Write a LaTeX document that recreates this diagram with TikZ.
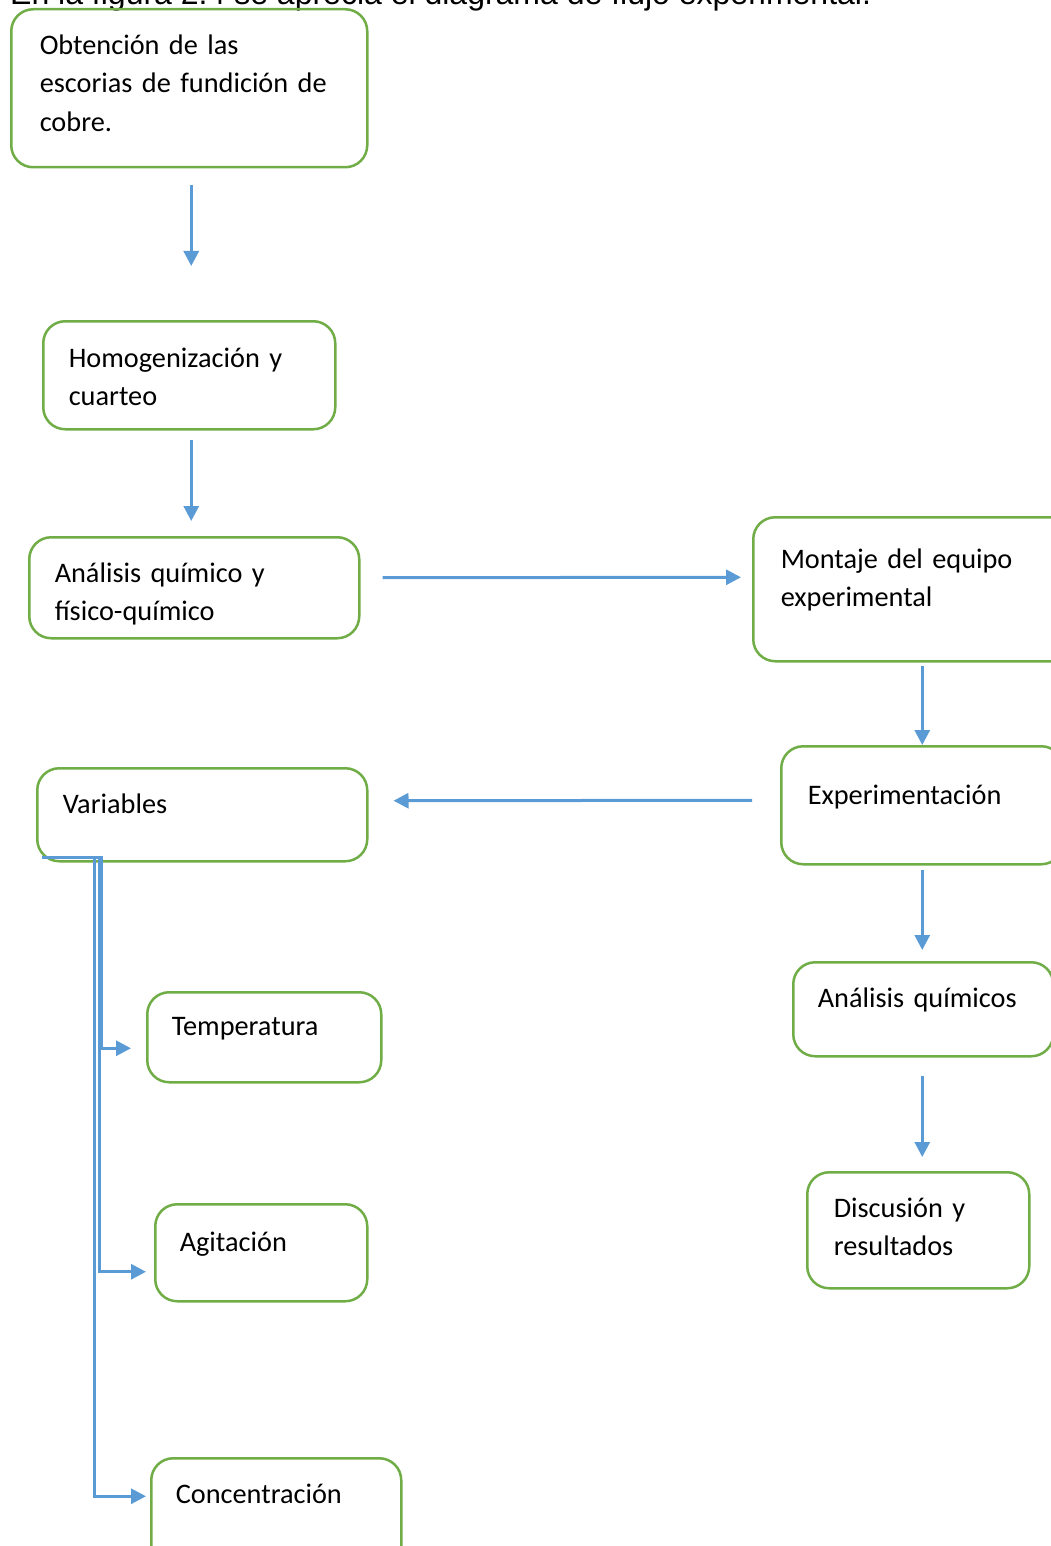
\documentclass[tikz,border=0pt]{standalone}
\usepackage{fontspec}
\setmainfont{Carlito}
\newfontfamily\headfont{Liberation Sans}
\usepackage{tikz}
\usetikzlibrary{arrows.meta, positioning, calc}
\usepackage{xcolor}
\definecolor{boxgreen}{HTML}{70AD47}
\definecolor{flowblue}{HTML}{5B9BD5}

\begin{document}
\begin{tikzpicture}[x=1pt, y=-1pt,
    box/.style={draw=boxgreen, line width=2.5pt, rounded corners=22pt, anchor=north west,
        inner ysep=0pt, align=left, font=\fontsize{28.3}{38.5}\selectfont},
    flow/.style={flowblue, line width=3pt, -{Triangle[length=15pt, width=15pt]}}]
                \clip (0,0) rectangle (1051,1546);
                \useasboundingbox (0,0) rectangle (1051,1546);

                % Caption line, cut at the top
                \node[anchor=base west, inner sep=0pt, font=\headfont\fontsize{32}{38}\selectfont] (head) at (10,5) {En la figura 2.4 se aprecia el diagrama de flujo experimental.};

                % Left column
                \node[box, inner xsep=28.5pt, text width=299pt, text height=45pt, text depth=113pt] (obt) at (10,8) {Obtención de las\\escorias de fundición de\\cobre.};
                \node[box, inner xsep=25.5pt, text width=241pt, text height=46pt, text depth=62pt] (homog) at (42,320) {Homogenización y\\cuarteo};
                \node[box, inner xsep=25.5pt, text width=279pt, text height=45pt, text depth=56pt] (anal) at (28,536) {Análisis químico y\\físico-químico};

                % Right column
                \node[box, inner xsep=27.5pt, text width=283pt, text height=51pt, text depth=93pt] (mont) at (752,516) {Montaje del equipo\\experimental};
                \node[box, inner xsep=26.5pt, text width=229pt, text height=58pt, text depth=60pt] (expe) at (780,745) {Experimentación};
                \node[box, inner xsep=24.5pt, text width=211pt, text height=45pt, text depth=49pt] (quim) at (792,961) {Análisis químicos};
                \node[box, inner xsep=26.5pt, text width=169pt, text height=45pt, text depth=71pt] (disc) at (806,1171) {Discusión y\\resultados};

                % Variables and its branches
                \node[box, inner xsep=25.5pt, text width=279pt, text height=45pt, text depth=48pt] (vars) at (36,767) {Variables};
                \node[box, inner xsep=24.5pt, text width=185pt, text height=43pt, text depth=47pt] (temp) at (146,991) {Temperatura};
                \node[box, inner xsep=24.5pt, text width=163pt, text height=47pt, text depth=50pt] (agit) at (154,1203) {Agitación};
                \node[box, inner xsep=24.5pt, text width=201pt, text height=45pt, text depth=65pt] (conc) at (150,1457) {Concentración};

                % Main flow
                \draw[flow, shorten <=17pt, shorten >=54pt] ($(obt.south)+(2,0)$) -- ($(homog.north)+(2,0)$);
                \draw[flow, shorten <=9pt, shorten >=15pt] ($(homog.south)+(2,0)$) -- ($(anal.north)+(-3,0)$);
                \draw[flow, shorten <=22pt, shorten >=11pt] ($(anal.east)+(0,-10)$) -- ($(mont.west)+(0,-12)$);
                \draw[flow, shorten <=3pt] (mont.south) -- (expe.north);
                \draw[flow, shorten <=28pt, shorten >=25pt] ($(expe.west)+(0,-5)$) -- ($(vars.east)+(0,-14)$);
                \draw[flow, shorten <=4pt, shorten >=11pt] (expe.south) -- ($(quim.north)+(-1,0)$);
                \draw[flow, shorten <=18pt, shorten >=14pt] ($(quim.south)+(-1,0)$) -- ($(disc.north)+(4,0)$);

                % Elbows out of Variables
                \coordinate (vbase) at ($(vars.south west)+(6,-5)$);
                \draw[flow, shorten >=15pt] (vbase) -- ++(59,0) |- ($(temp.west)+(0,11)$);
                \draw[flow, shorten >=8pt] (vbase) -- ++(57,0) |- ($(agit.west)+(0,19)$);
                \draw[flow, shorten >=4pt] ($(vbase)+(14,0)$) -- ++(38,0) |- ($(conc.west)+(0,-17)$);
            \end{tikzpicture}
\end{document}
